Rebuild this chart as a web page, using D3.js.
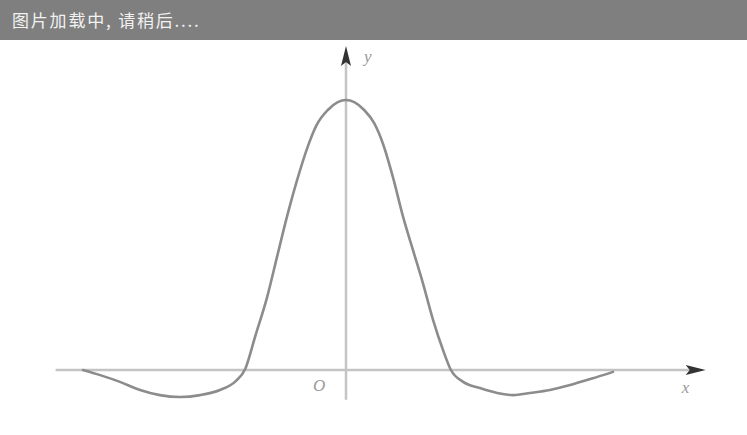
<!DOCTYPE html>
<html>
<head>
<meta charset="utf-8">
<script src="https://cdn.jsdelivr.net/npm/d3@7"></script>
<style>
html,body{margin:0;padding:0;background:#fff;}
svg{display:block;}
</style>
</head>
<body>
<svg id="chart" width="747" height="435"></svg>
<script>
// Data
const bannerText = "图片加载中, 请稍后....";
const curveX = [-7.97,-7.45,-6.85,-6.24,-5.64,-5.03,-4.42,-3.82,-3.35,-3.05,-2.75,-2.39,-2.09,-1.79,-1.48,-1.18,-0.90,-0.55,-0.25,0,0.25,0.55,0.85,1.12,1.42,1.73,2.03,2.33,2.64,2.94,3.18,3.55,4.06,4.58,5.06,5.58,6.18,6.79,7.30,7.79,8.09];
const curveY = [0,-0.019,-0.044,-0.074,-0.093,-0.100,-0.093,-0.074,-0.042,0.005,0.125,0.270,0.419,0.567,0.704,0.820,0.905,0.963,0.992,1.0,0.992,0.963,0.915,0.838,0.715,0.567,0.444,0.322,0.185,0.074,0,-0.044,-0.067,-0.085,-0.093,-0.085,-0.074,-0.056,-0.037,-0.019,-0.007];
const xAxisExtent = [-8.8, 10.9];
const yAxisExtent = [-0.11, 1.2];
const axisLabels = {x: "x", y: "y", origin: "O"};

const svg = d3.select("#chart");
const W = 747, H = 435;

const x = d3.scaleLinear().domain([-9, 11]).range([346 - 9*33, 346 + 11*33]);
const y = d3.scaleLinear().domain([-0.3, 1.2]).range([370 + 0.3*270, 370 - 1.2*270]);

// axes
const axisColor = "#c4c4c4";
svg.append("line")
  .attr("x1", x(xAxisExtent[0])).attr("x2", x(xAxisExtent[1]) - 12)
  .attr("y1", y(0)).attr("y2", y(0))
  .attr("stroke", axisColor).attr("stroke-width", 2.5);
svg.append("line")
  .attr("x1", x(0)).attr("x2", x(0))
  .attr("y1", y(yAxisExtent[0])).attr("y2", y(yAxisExtent[1]) + 12)
  .attr("stroke", axisColor).attr("stroke-width", 2.5);

// arrowheads
const xe = x(xAxisExtent[1]), y0 = y(0);
svg.append("path")
  .attr("d", `M${xe},${y0} L${xe-20},${y0-5} L${xe-16},${y0} L${xe-20},${y0+5} Z`)
  .attr("fill", "#333");
const ye = y(yAxisExtent[1]), x0 = x(0);
svg.append("path")
  .attr("d", `M${x0},${ye} L${x0-5},${ye+20} L${x0},${ye+16} L${x0+5},${ye+20} Z`)
  .attr("fill", "#333");

// curve
const pts = curveX.map((d, i) => [d, curveY[i]]);
const line = d3.line().x(d => x(d[0])).y(d => y(d[1])).curve(d3.curveMonotoneX);
svg.append("path")
  .datum(pts)
  .attr("d", line)
  .attr("fill", "none")
  .attr("stroke", "#8c8c8c")
  .attr("stroke-width", 2.6)
  .attr("stroke-linecap", "round")
  .attr("stroke-linejoin", "round");

// labels
const lblFont = "'Liberation Serif', 'DejaVu Serif', serif";
svg.append("text").attr("x", x(0) + 18).attr("y", ye + 16)
  .attr("font-family", lblFont).attr("font-style", "italic").attr("font-size", 17)
  .attr("fill", "#999").text(axisLabels.y);
svg.append("text").attr("x", xe - 24).attr("y", y0 + 23)
  .attr("font-family", lblFont).attr("font-style", "italic").attr("font-size", 17)
  .attr("fill", "#999").text(axisLabels.x);
svg.append("text").attr("x", x(0) - 33).attr("y", y0 + 21)
  .attr("font-family", lblFont).attr("font-style", "italic").attr("font-size", 17)
  .attr("fill", "#999").text(axisLabels.origin);

// banner
svg.append("rect").attr("x", 0).attr("y", 0).attr("width", W).attr("height", 40)
  .attr("fill", "#7f7f7f");
svg.append("text").attr("x", 12).attr("y", 27)
  .attr("font-family", "'Noto Sans CJK SC', sans-serif").attr("font-size", 17)
  .attr("letter-spacing", 1.8)
  .attr("fill", "#f2f2f2").text(bannerText);
</script>
</body>
</html>
